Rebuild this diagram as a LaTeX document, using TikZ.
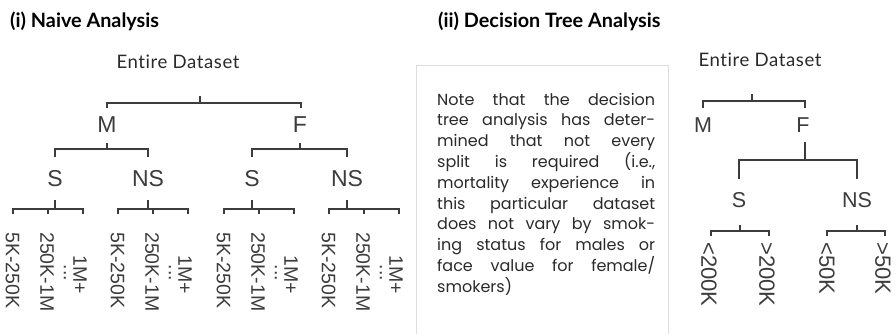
\documentclass[tikz,border=0pt]{standalone}
\usepackage{fontspec}
\setmainfont{Lato}[Ligatures=NoCommon]
\newfontfamily\entfont{Lato}[LetterSpace=3,Ligatures=NoCommon]
\newfontfamily\notefont{Poppins}[Ligatures=NoCommon]
\newfontfamily\treefont{Liberation Sans}
\usetikzlibrary{calc}
\definecolor{linec}{HTML}{3C3C3C}
\definecolor{txtc}{HTML}{2A2A2A}
\definecolor{boxc}{HTML}{DDDDDD}
\tikzset{
  tl/.style={draw=linec, line width=1.3pt},
  ttl/.style={font=\bfseries\fontsize{19.8}{22}\selectfont, text=black, inner sep=0, anchor=base west},
  ent/.style={font=\entfont\fontsize{18.6}{20}\selectfont, text=txtc, inner sep=0, anchor=base},
  lvl/.style={font=\treefont\fontsize{23}{25}\selectfont, text=linec, inner sep=0},
  lvlr/.style={font=\treefont\fontsize{21.5}{24}\selectfont, text=linec, inner sep=0},
  leaf/.style={font=\treefont\fontsize{19.5}{22}\selectfont, text=linec, inner sep=0, rotate=-90, anchor=west},
  leafr/.style={font=\treefont\fontsize{22}{24}\selectfont, text=linec, inner sep=0, rotate=-90, anchor=west},
  notetxt/.style={font=\notefont\fontsize{16}{20}\selectfont, text=txtc, inner sep=0, anchor=base west}
}
\begin{document}
\begin{tikzpicture}[x=1pt,y=-1pt]
\useasboundingbox (0,0) rectangle (896,333);
\fill[white] (0,0) rectangle (896,333);

% titles
\node[ttl] (t1) at (10,27) {(i) Naive Analysis};
\node[ttl] (t2) at (438,27) {(ii) Decision Tree Analysis};

% ---------- left tree ----------
\node[ent] (ed1) at (178,68) {Entire Dataset};
\coordinate (rb) at (200,103);
\node[lvl] (M1) at (107,124.5) {M};
\node[lvl] (F1) at (300,124.5) {F};
\draw[tl] (rb) -- ++(0,-7);
\draw[tl] ([yshift=8.5pt]M1.north) |- (rb) -| ([yshift=8.5pt,xshift=1pt]F1.north);

% level 2
\coordinate (mb) at (107,149);
\coordinate (fb) at (300,149);
\node[lvl] (MS) at (55,178.5) {S};
\node[lvl] (MN) at (148,178.5) {NS};
\node[lvl] (FS) at (252,178.5) {S};
\node[lvl] (FN) at (347,178.5) {NS};
\draw[tl] (mb) -- ++(0,-6);
\draw[tl] (fb) -- ++(0,-6);
\draw[tl] ([yshift=13pt]MS.north) |- (mb) -| ([yshift=13pt]MN.north);
\draw[tl] ([yshift=13pt]FS.north) |- (fb) -| ([yshift=13pt]FN.north);

% leaves
\foreach \pn/\x in {MS/13, MN/118, FS/224, FN/329}{
  \coordinate (\pn b) at (\pn.center |- 0,209);
  \draw[tl] (\pn b) -- ++(0,-9);
  \coordinate (\pn l1) at (\x,214);
  \coordinate (\pn l2) at (\x+35,214);
  \coordinate (\pn l3) at (\x+70,214);
  \draw[tl] (\pn l1) |- (\pn b) -| (\pn l3);
  \draw[tl] (\pn l2) -- (\pn l2 |- \pn b);
  \node[leaf] (\pn a) at (\x-0.5,232) {5K-250K};
  \node[leaf] (\pn c) at (\x+34,232) {250K-1M};
  \node[leaf, anchor=center] (\pn d) at (\x+52,273) {...};
  \node[leaf] (\pn e) at (\x+67,255) {1M+};
}

% ---------- note box ----------
\draw[boxc, line width=1pt] (416,340) -- (416,65) -- (668,65) -- (668,340);
\foreach \t [count=\i from 0] in {{Note that the decision},{tree analysis has deter-},{mined that not every},{split is required (i.e.,},{mortality experience in},{this particular dataset},{does not vary by smok-},{ing status for males or},{face value for female/}}{
  \node[notetxt] (n\i) at (437,105+20.8*\i) {\makebox[218pt][s]{\t}};
}
\node[notetxt] (n9) at (437,105+20.8*9) {smokers)};

% ---------- right tree ----------
\node[ent] (ed2) at (760,66) {Entire Dataset};
\coordinate (rb2) at (752,101);
\node[lvlr] (M2) at (703,125) {M};
\node[lvlr] (F2) at (803,125) {F};
\draw[tl] (rb2) -- ++(0,-7);
\draw[tl] ([yshift=9pt]M2.north) |- (rb2) -| ([yshift=9pt,xshift=2pt]F2.north);
\coordinate (fb2) at (805,160);
\node[lvlr] (S2) at (739,200.5) {S};
\node[lvlr] (N2) at (857,200.5) {NS};
\draw[tl] ([xshift=2pt,yshift=-9pt]F2.south) -- (fb2);
\draw[tl] ([yshift=14pt]S2.north) |- (fb2) -| ([yshift=14pt]N2.north);

\coordinate (sb2) at (740,231);
\coordinate (nb2) at (857,231);
\draw[tl] (sb2) -- ++(0,-6);
\draw[tl] (nb2) -- ++(0,-6);
\node[leafr] (s1) at (709,242) {<200K};
\node[leafr] (s2) at (767,242) {>200K};
\node[leafr] (n1) at (827,242) {<50K};
\node[leafr] (n2) at (883,242) {>50K};
\draw[tl] ([xshift=2pt,yshift=6pt]s1.west) |- (sb2) -| ([xshift=2pt,yshift=6pt]s2.west);
\draw[tl] ([yshift=6pt]n1.west) |- (nb2) -| ([xshift=2pt,yshift=6pt]n2.west);
\end{tikzpicture}
\end{document}
